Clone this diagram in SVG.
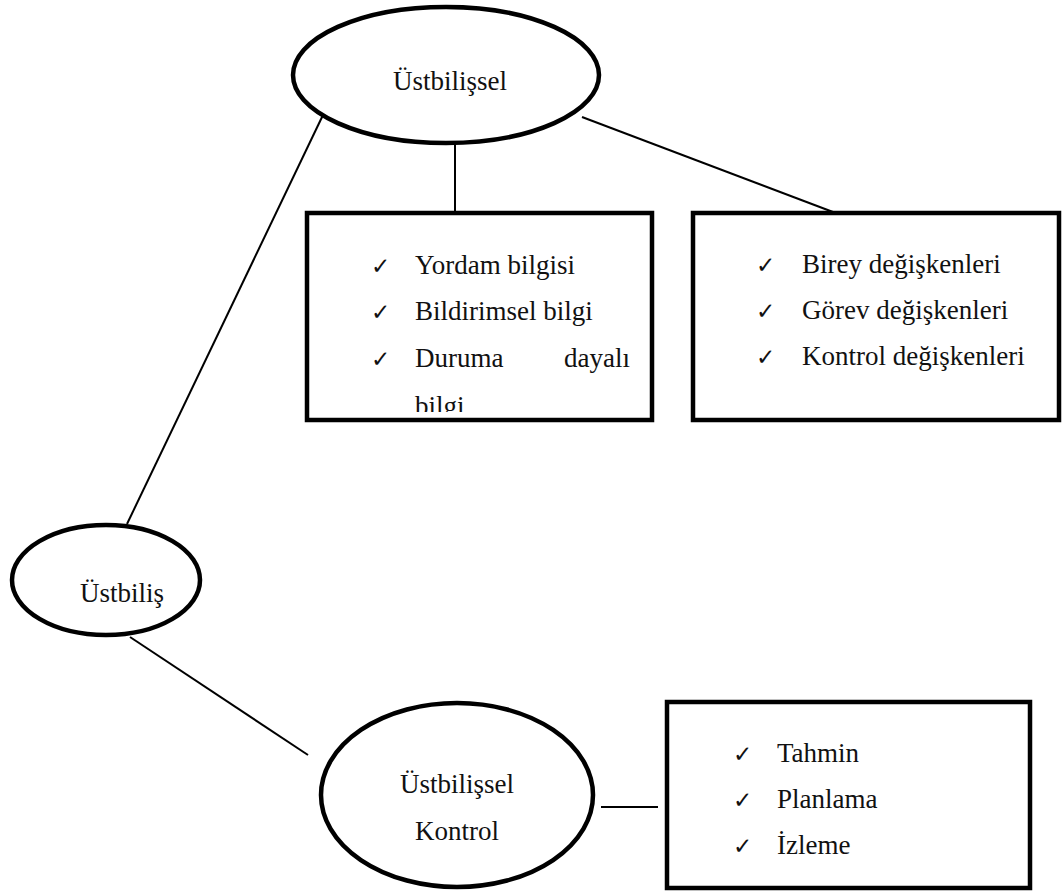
<svg xmlns="http://www.w3.org/2000/svg" width="1062" height="891" viewBox="0 0 1062 891">
<style>
.node{fill:#fff;stroke:#000;stroke-width:4.5}
.box{fill:#fff;stroke:#000;stroke-width:4.5}
.t{font-family:"Liberation Serif",serif;font-size:27px;fill:#111}
.c{font-family:"DejaVu Sans",sans-serif;font-size:23px;fill:#111}
.edge{stroke:#000;stroke-width:2;fill:none}
</style>
<defs>
<clipPath id="clip1"><rect x="309" y="215" width="341" height="197"/></clipPath>
</defs>
<rect width="1062" height="891" fill="#fff"/>
<g id="connectors">
<line class="edge" x1="323" y1="115" x2="127" y2="524"/>
<line class="edge" x1="455" y1="144" x2="455" y2="213"/>
<line class="edge" x1="582" y1="117" x2="833" y2="212"/>
<line class="edge" x1="130" y1="637" x2="308" y2="755"/>
<line class="edge" x1="601" y1="807" x2="658" y2="807"/>
</g>
<g id="ustbilissel">
<ellipse class="node" cx="446" cy="75" rx="153" ry="68"/>
<text class="t" x="450" y="90" text-anchor="middle">Üstbilişsel</text>
</g>
<g id="box1">
<rect class="box" x="307" y="213" width="345" height="207"/>
<text class="c" x="371" y="274">✓</text>
<text class="t" x="415" y="274">Yordam bilgisi</text>
<text class="c" x="371" y="320">✓</text>
<text class="t" x="415" y="320">Bildirimsel bilgi</text>
<text class="c" x="371" y="367">✓</text>
<text class="t" x="415" y="367">Duruma</text>
<text class="t" x="630" y="367" text-anchor="end">dayalı</text>
<text class="t" x="415" y="415" clip-path="url(#clip1)">bilgi</text>
</g>
<g id="box2">
<rect class="box" x="693" y="213" width="366" height="207"/>
<text class="c" x="756" y="273">✓</text>
<text class="t" x="802" y="273">Birey değişkenleri</text>
<text class="c" x="756" y="319">✓</text>
<text class="t" x="802" y="319">Görev değişkenleri</text>
<text class="c" x="756" y="365">✓</text>
<text class="t" x="802" y="365">Kontrol değişkenleri</text>
</g>
<g id="ustbilis">
<ellipse class="node" cx="106" cy="580" rx="94" ry="55"/>
<text class="t" x="122" y="602" text-anchor="middle">Üstbiliş</text>
</g>
<g id="ustbilissel-kontrol">
<ellipse class="node" cx="457" cy="795" rx="136" ry="92"/>
<text class="t" x="457" y="793" text-anchor="middle">Üstbilişsel</text>
<text class="t" x="457" y="840" text-anchor="middle">Kontrol</text>
</g>
<g id="box3">
<rect class="box" x="667" y="702" width="363" height="186"/>
<text class="c" x="733" y="762">✓</text>
<text class="t" x="777" y="762">Tahmin</text>
<text class="c" x="733" y="808">✓</text>
<text class="t" x="777" y="808">Planlama</text>
<text class="c" x="733" y="854">✓</text>
<text class="t" x="777" y="854">İzleme</text>
</g>
</svg>
